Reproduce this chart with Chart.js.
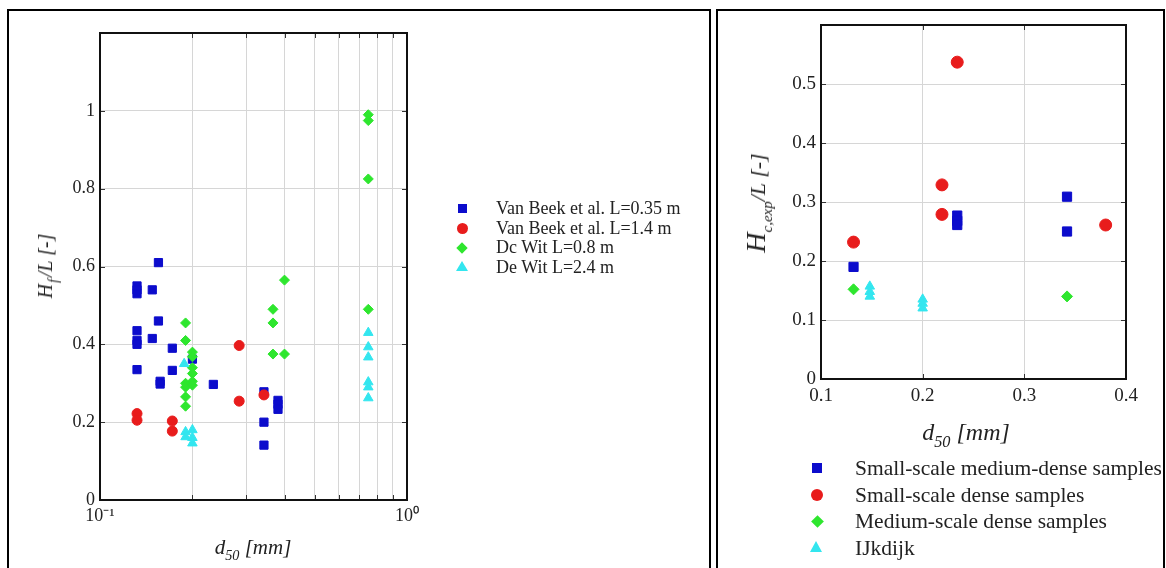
<!DOCTYPE html>
<html><head><meta charset="utf-8">
<script src="https://cdn.jsdelivr.net/npm/chart.js@4.4.1/dist/chart.umd.min.js"></script>
<style>
html,body{margin:0;padding:0;background:#fff;width:1166px;height:568px;overflow:hidden;font-family:"Liberation Serif","Times New Roman",serif;color:#222;}
.panel{position:absolute;top:9px;height:580px;border:2px solid #000;border-bottom:none;box-sizing:border-box;}
#pL{left:7px;width:704px;}
#pR{left:716px;width:449px;overflow:hidden;}
.cv{position:absolute;top:0;}
.t{position:absolute;white-space:nowrap;font-style:italic;line-height:1;}
.t sub{font-size:0.68em;vertical-align:-0.45em;line-height:0;}
.leg{position:absolute;white-space:nowrap;}
.leg .row{position:relative;}
.leg .mk{position:absolute;top:50%;}
</style>
</head><body>
<div class="panel" id="pL"></div>
<div class="panel" id="pR"></div>
<canvas id="cL" class="cv" width="712" height="568" style="left:0"></canvas>
<canvas id="cR" class="cv" width="454" height="568" style="left:712px"></canvas>

<div class="t" style="left:253px;top:537px;font-size:21px;transform:translateX(-50%)"><i>d</i><sub>50</sub> [mm]</div>
<div class="t" style="left:45px;top:266px;font-size:20px;transform:translate(-50%,-50%) rotate(-90deg)">H<sub style="margin-left:1px;margin-right:2px">f</sub>/L [-]</div>
<div class="t" style="left:966px;top:420px;font-size:24px;transform:translateX(-50%)"><i>d</i><sub>50</sub> [mm]</div>
<div class="t" style="left:756px;top:203px;font-size:22px;transform:translate(-50%,-50%) rotate(-90deg)"><span style="font-size:28px">H</span><sub style="font-size:15px">c,exp</sub>/L [-]</div>

<div class="leg" id="legL" style="left:455px;top:199px;font-size:18px;"></div>
<div class="leg" id="legR" style="left:810px;top:455px;width:351px;overflow:hidden;font-size:21.5px;"></div>

<script>
// ---------- Left panel data: H_f/L vs d50 (log x) ----------
const leftNames = ["Van Beek et al. L=0.35 m", "Van Beek et al. L=1.4 m", "Dc Wit L=0.8 m", "De Wit L=2.4 m"];
const vanBeek035_x = [0.132,0.132,0.132,0.132,0.132,0.132,0.132, 0.148,0.148, 0.155,0.155,0.157,0.157, 0.172,0.172, 0.2, 0.234, 0.342,0.342,0.342, 0.38,0.38,0.38];
const vanBeek035_y = [0.55,0.54,0.53,0.435,0.41,0.40,0.335, 0.54,0.415, 0.61,0.46,0.305,0.298, 0.39,0.333, 0.362, 0.297, 0.278,0.2,0.141, 0.256,0.246,0.233];
const vanBeek14_x = [0.132,0.132, 0.172,0.172, 0.284,0.284, 0.342];
const vanBeek14_y = [0.222,0.205, 0.203,0.177, 0.397,0.254, 0.27];
const deWit08_x = [0.19,0.19,0.19,0.19,0.19,0.19, 0.2,0.2,0.2,0.2,0.2,0.2, 0.366,0.366,0.366, 0.399,0.399, 0.748,0.748,0.748,0.748];
const deWit08_y = [0.455,0.41,0.30,0.29,0.265,0.241, 0.38,0.368,0.34,0.325,0.305,0.295, 0.49,0.455,0.375, 0.565,0.375, 0.99,0.975,0.825,0.49];
const deWit24_x = [0.188,0.19,0.19, 0.2,0.2,0.2, 0.748,0.748,0.748,0.748,0.748,0.748];
const deWit24_y = [0.35,0.175,0.162, 0.18,0.16,0.146, 0.43,0.393,0.367,0.303,0.29,0.262];

// ---------- Right panel data: H_c,exp/L vs d50 ----------
const rightNames = ["Small-scale medium-dense samples", "Small-scale dense samples", "Medium-scale dense samples", "IJkdijk"];
const smallMed_x = [0.132, 0.234,0.234,0.234, 0.342,0.342];
const smallMed_y = [0.19, 0.277,0.268,0.261, 0.309,0.25];
const smallDense_x = [0.132, 0.219,0.219, 0.234, 0.380];
const smallDense_y = [0.232, 0.329,0.279, 0.537, 0.261];
const medDense_x = [0.132, 0.342];
const medDense_y = [0.152, 0.14];
const ijkdijk_x = [0.148,0.148,0.148, 0.2,0.2,0.2];
const ijkdijk_y = [0.157,0.148,0.14, 0.135,0.128,0.12];

// ---------- Ticks ----------
const leftXTickValues = [0.1,0.2,0.3,0.4,0.5,0.6,0.7,0.8,0.9,1];
const leftXTickLabels = {"0.1": "10\u207B\u00B9", "1": "10\u2070"};
const leftYTickLabels = ["0","0.2","0.4","0.6","0.8","1"];
const rightXTickLabels = ["0.1","0.2","0.3","0.4"];
const rightYTickLabels = ["0","0.1","0.2","0.3","0.4","0.5"];

const colors = ["#0c0ccc", "#e81c1c", "#2ee62e", "#33e6ef"];
const styles = ["rect", "circle", "rectRot", "triangle"];

function pts(xs, ys){ return xs.map((x,i)=>({x:x, y:ys[i]})); }
function ds(label, xs, ys, k, r){
  return {label, data: pts(xs,ys), pointStyle: styles[k], backgroundColor: colors[k], borderColor: colors[k],
          borderWidth: 1, pointRadius: r, pointHoverRadius: r, order: 3-k, showLine:false};
}
function fmt(v){ return String(+(+v).toFixed(2)); }

const framePlugin = {
  id: 'frame',
  afterDraw(chart){
    const {ctx, chartArea:a, scales} = chart;
    ctx.save();
    ctx.strokeStyle = '#333'; ctx.lineWidth = 1;
    const L = 5;
    ctx.beginPath();
    scales.x.ticks.forEach(t=>{
      const p = Math.round(scales.x.getPixelForValue(t.value))+0.5;
      ctx.moveTo(p, a.bottom); ctx.lineTo(p, a.bottom-L);
      ctx.moveTo(p, a.top); ctx.lineTo(p, a.top+L);
    });
    scales.y.ticks.forEach(t=>{
      const p = Math.round(scales.y.getPixelForValue(t.value))+0.5;
      ctx.moveTo(a.left, p); ctx.lineTo(a.left+L, p);
      ctx.moveTo(a.right, p); ctx.lineTo(a.right-L, p);
    });
    ctx.stroke();
    ctx.strokeStyle = '#111'; ctx.lineWidth = 2;
    ctx.strokeRect(a.left, a.top, a.width, a.height);
    ctx.restore();
  }
};

const gridCol = '#d6d6d6';
const fontFam = '"Liberation Serif","Times New Roman",serif';

new Chart(document.getElementById('cL'), {
  type: 'scatter',
  data: { datasets: [
    ds(leftNames[0], vanBeek035_x, vanBeek035_y, 0, 5.8),
    ds(leftNames[1], vanBeek14_x, vanBeek14_y, 1, 5),
    ds(leftNames[2], deWit08_x, deWit08_y, 2, 5),
    ds(leftNames[3], deWit24_x, deWit24_y, 3, 5.5)
  ]},
  options: {
    responsive: false, animation: false,
    layout: { padding: { left: 0, top: 33, right: 305, bottom: 28 } },
    plugins: { legend: { display: false }, tooltip: { enabled: false } },
    scales: {
      x: { type: 'logarithmic', min: 0.1, max: 1,
        grid: { color: gridCol, drawTicks: false }, border: { display: false },
        afterBuildTicks: (s)=>{ s.ticks = leftXTickValues.map(v=>({value:v})); },
        ticks: { autoSkip: false, maxRotation: 0, padding: 5, color: '#222', font: { family: fontFam, size: 18 },
          callback: (v)=> leftXTickLabels[fmt(v)] || '' },
        afterFit: (s)=>{ s.height = 40; } },
      y: { min: 0, max: 1.2,
        grid: { color: gridCol, drawTicks: false }, border: { display: false },
        ticks: { stepSize: 0.2, padding: 5, color: '#222', font: { family: fontFam, size: 18 },
          callback: (v)=> { const s = fmt(v); return leftYTickLabels.includes(s) ? s : ''; } },
        afterFit: (s)=>{ s.width = 100; } }
    }
  },
  plugins: [framePlugin]
});

new Chart(document.getElementById('cR'), {
  type: 'scatter',
  data: { datasets: [
    ds(rightNames[0], smallMed_x, smallMed_y, 0, 6.5),
    ds(rightNames[1], smallDense_x, smallDense_y, 1, 6),
    ds(rightNames[2], medDense_x, medDense_y, 2, 5.5),
    ds(rightNames[3], ijkdijk_x, ijkdijk_y, 3, 5.5)
  ]},
  options: {
    responsive: false, animation: false,
    layout: { padding: { left: 0, top: 25, right: 40, bottom: 159 } },
    plugins: { legend: { display: false }, tooltip: { enabled: false } },
    scales: {
      x: { type: 'linear', min: 0.1, max: 0.4,
        grid: { color: gridCol, drawTicks: false }, border: { display: false },
        ticks: { stepSize: 0.1, maxRotation: 0, padding: 6, color: '#222', font: { family: fontFam, size: 19 },
          callback: (v)=> { const s = fmt(v); return rightXTickLabels.includes(s) ? s : ''; } },
        afterFit: (s)=>{ s.height = 30; } },
      y: { min: 0, max: 0.6,
        grid: { color: gridCol, drawTicks: false }, border: { display: false },
        ticks: { stepSize: 0.1, padding: 5, color: '#222', font: { family: fontFam, size: 19 },
          callback: (v)=> { const s = fmt(v); return rightYTickLabels.includes(s) ? s : ''; } },
        afterFit: (s)=>{ s.width = 109; } }
    }
  },
  plugins: [framePlugin]
});

// ---------- HTML legends ----------
function marker(k, size){
  const m = document.createElement('span');
  m.className = 'mk';
  const c = colors[k];
  if (k === 0) { m.style.cssText += `width:${size}px;height:${size}px;background:${c};margin-top:${-size/2}px;left:${-size/2}px`; }
  if (k === 1) { const d=size+2; m.style.cssText += `width:${d}px;height:${d}px;border-radius:50%;background:${c};margin-top:${-d/2}px;left:${-d/2}px`; }
  if (k === 2) { const d=size-1; m.style.cssText += `width:${d}px;height:${d}px;background:${c};transform:rotate(45deg);margin-top:${-d/2}px;left:${-d/2}px`; }
  if (k === 3) { const h=size+1; m.style.cssText += `width:0;height:0;border-left:${h*0.6}px solid transparent;border-right:${h*0.6}px solid transparent;border-bottom:${h}px solid ${c};margin-top:${-h/2-1}px;left:${-h*0.6}px`; }
  return m;
}
function buildLegend(id, names, size, textLeft, rowH){
  const el = document.getElementById(id);
  names.forEach((n,k)=>{
    const r = document.createElement('div');
    r.className = 'row';
    r.style.height = rowH + 'px';
    r.style.lineHeight = rowH + 'px';
    const mw = document.createElement('span');
    mw.style.cssText = `position:absolute;left:7px;top:0;height:${rowH}px;width:0`;
    mw.appendChild(marker(k, size));
    r.appendChild(mw);
    const t = document.createElement('span');
    t.textContent = n;
    t.style.paddingLeft = textLeft + 'px';
    r.appendChild(t);
    el.appendChild(r);
  });
}
buildLegend('legL', leftNames, 9, 41, 19.5);
buildLegend('legR', rightNames, 10, 45, 26.5);
</script>
</body></html>
